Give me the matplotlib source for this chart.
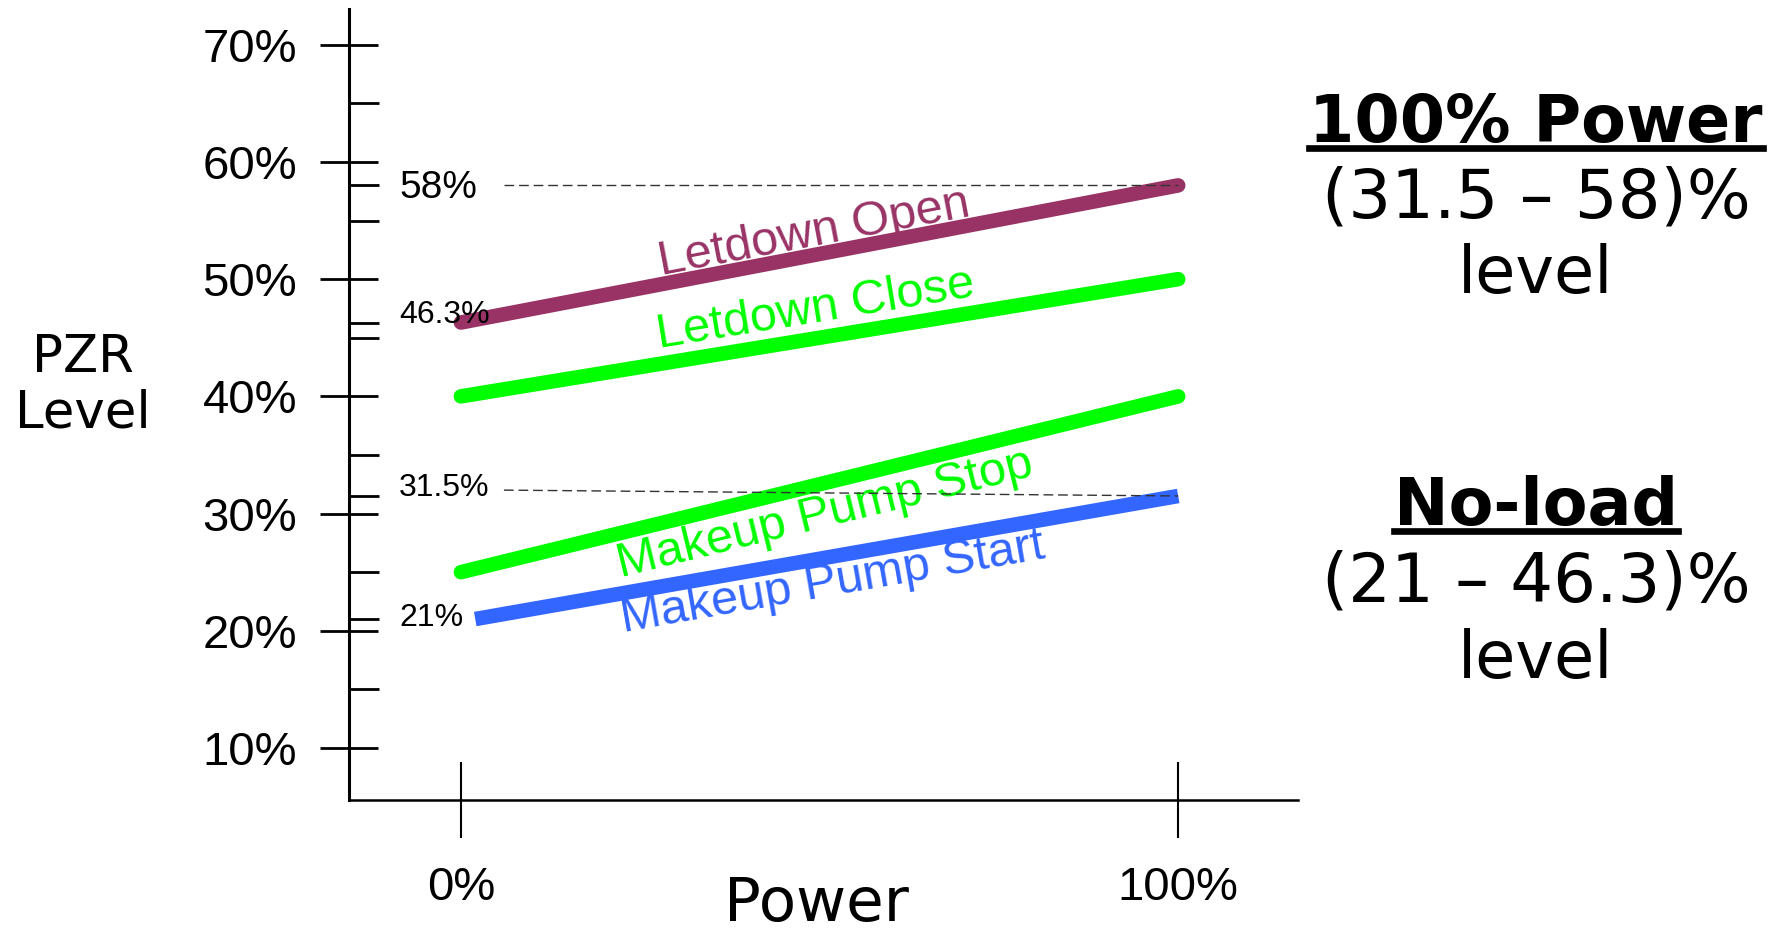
import numpy as np
import matplotlib
matplotlib.use("Agg")
import matplotlib.pyplot as plt
from matplotlib.lines import Line2D

plt.rcParams['font.family'] = ['Liberation Sans', 'DejaVu Sans']

# setpoint lines (power %, PZR level %)
power = [0, 100]
letdown_open = [46.3, 58]
letdown_close = [40, 50]
makeup_stop = [25, 40]
makeup_start_power = [2, 100]
makeup_start = [21, 31.5]

major_levels = [10, 20, 30, 40, 50, 60, 70]
minor_levels = [15, 25, 35, 45, 55, 65, 21, 31.5, 46.3, 58]
marked_levels = ['58%', '46.3%', '31.5%', '21%']

W, H = 1785, 934
fig = plt.figure(figsize=(W / 100, H / 100), dpi=100)
ax = fig.add_axes([349 / W, 1 - 800 / H, 949 / W, 791 / H])
ax.set_xlim(-15.6, 116.7)
ax.set_ylim(5.56, 73.05)

for s in ['top', 'right']:
    ax.spines[s].set_visible(False)
ax.spines['left'].set_linewidth(2.2)
ax.spines['bottom'].set_linewidth(1.8)

ax.set_yticks(major_levels)
ax.set_yticklabels([f'{v}%' for v in major_levels])
ax.set_yticks(minor_levels, minor=True)
ax.tick_params(axis='y', which='major', direction='inout', length=42, width=2,
               pad=16.5, labelsize=34)
ax.tick_params(axis='y', which='minor', direction='in', length=21.6, width=2)
ax.set_xticks(power)
ax.set_xticklabels(['0%', '100%'])
ax.tick_params(axis='x', direction='inout', length=55, width=1.5, pad=20,
               labelsize=34)

# dashed guides for the 100% power band
ax.plot([6, 100], [58, 58], color='#333333', lw=1, ls=(0, (7, 3.5)), zorder=4)
ax.plot([6, 100], [32, 31.5], color='#333333', lw=1, ls=(0, (7, 3.5)), zorder=4)

purple = '#993366'
green = '#00ff00'
blue = '#3366ff'
lw = 10.5
ax.plot(power, letdown_open, color=purple, lw=lw, solid_capstyle='round', zorder=3)
ax.plot(power, letdown_close, color=green, lw=lw, solid_capstyle='round', zorder=3)
ax.plot(power, makeup_stop, color=green, lw=lw, solid_capstyle='round', zorder=3)
ax.plot(makeup_start_power, makeup_start, color=blue, lw=lw, solid_capstyle='butt', zorder=3)


def slope_deg(xs, ys):
    return np.degrees(np.arctan2(ys[1] - ys[0], xs[1] - xs[0]))


labels = [
    ('Letdown Open', 49.2, 53.9, power, letdown_open, purple),
    ('Letdown Close', 49.4, 47.4, power, letdown_close, green),
    ('Makeup Pump Stop', 50.8, 29.9, power, makeup_stop, green),
    ('Makeup Pump Start', 51.8, 24.1, makeup_start_power, makeup_start, blue),
]
for txt, lx, ly, xs, ys, c in labels:
    ax.text(lx, ly, txt, color=c, fontsize=35, ha='center', va='center',
            rotation=slope_deg(xs, ys), rotation_mode='anchor',
            transform_rotates_text=True)

# small value marks next to the axis
mark_y = [57.8, 46.9, 32.2, 21.1]
mark_size = [28, 23, 23, 23]
for lab, y, fs in zip(marked_levels, mark_y, mark_size):
    ax.text(-8.6, y, lab, fontsize=fs, ha='left', va='center')

# axis titles
fig.text(816 / W, 1 - 905 / H, 'Power', fontsize=44, family='DejaVu Sans',
         ha='center', va='center')
fig.text(83 / W, 1 - 386 / H, 'PZR\nLevel', fontsize=37, family='DejaVu Sans',
         ha='center', va='center', linespacing=1.15)

# right side notes
cx = 1536
heads = []
for txt, y, bold in [('100% Power', 142, True), ('(31.5 \u2013 58)%', 217, False),
                     ('level', 293, False), ('No-load', 525, True),
                     ('(21 \u2013 46.3)%', 602, False), ('level', 678, False)]:
    fs = 47 if (bold or txt == 'level') else 48.5
    t = fig.text(cx / W, 1 - y / H, txt, fontsize=fs, family='DejaVu Sans',
                 fontweight='bold' if bold else 'normal', ha='center', va='baseline')
    if bold:
        heads.append((t, y + 6))

fig.canvas.draw()
r = fig.canvas.get_renderer()
for t, uy in heads:
    bb = t.get_window_extent(r)
    fig.add_artist(Line2D([bb.x0 / W, bb.x1 / W], [1 - uy / H, 1 - uy / H],
                          transform=fig.transFigure, color='black', lw=4.8))

fig.savefig('out.png', dpi=100)
